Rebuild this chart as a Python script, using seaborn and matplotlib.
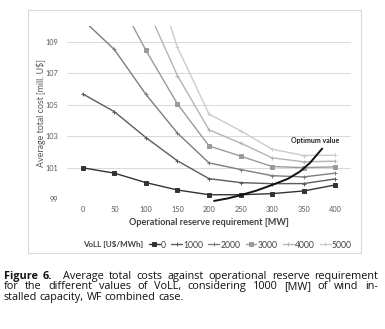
import numpy as np
import pandas as pd
import matplotlib
matplotlib.use("Agg")
import matplotlib.pyplot as plt
from matplotlib.lines import Line2D
from matplotlib.patches import Rectangle
import seaborn as sns

# ---------------- data ----------------
reserve = [0, 50, 100, 150, 200, 250, 300, 350, 400]
voll_labels = ["0", "1000", "2000", "3000", "4000", "5000"]
cost_0 = [101.0, 100.66, 100.06, 99.59, 99.29, 99.29, 99.36, 99.53, 99.91]
cost_1000 = [105.69, 104.56, 102.92, 101.44, 100.31, 100.06, 99.99, 100.0, 100.29]
cost_2000 = [110.4, 108.51, 105.66, 103.2, 101.31, 100.89, 100.5, 100.42, 100.66]
cost_3000 = [115.5, 112.2, 108.46, 105.05, 102.39, 101.74, 101.08, 101.01, 101.06]
cost_4000 = [119.0, 115.0, 111.3, 106.85, 103.41, 102.57, 101.63, 101.38, 101.42]
cost_5000 = [122.0, 118.0, 114.8, 108.65, 104.41, 103.35, 102.18, 101.78, 101.8]
# hand-drawn "optimum value" curve (annotation)
opt_x = [207, 229, 249, 275, 300, 325, 344, 360, 380]
opt_y = [98.89, 99.05, 99.25, 99.55, 99.91, 100.3, 100.76, 101.31, 102.25]

yticks = [99, 101, 103, 105, 107, 109]
xlabel = "Operational reserve requirement [MW]"
ylabel = "Average total cost [mill. U$]"
legend_title = "VoLL [U$/MWh]"
annot = "Optimum value"
caption = [
    [("Figure", "bold", 0), ("6.", "bold", 6), ("Average", "normal", 0), ("total", "normal", 0),
     ("costs", "normal", 0), ("against", "normal", 0), ("operational", "normal", 0),
     ("reserve", "normal", 0), ("requirement", "normal", 0)],
    [("for", "normal", 0), ("the", "normal", 0), ("different", "normal", 0), ("values", "normal", 0),
     ("of", "normal", 0), ("VoLL,", "normal", 0), ("considering", "normal", 0), ("1000", "normal", 0),
     ("[MW]", "normal", 0), ("of", "normal", 0), ("wind", "normal", 0), ("in-", "normal", 0)],
    [("stalled", "normal", 0), ("capacity,", "normal", 0), ("WF", "normal", 0),
     ("combined", "normal", 0), ("case.", "normal", 0)],
]

series = [cost_0, cost_1000, cost_2000, cost_3000, cost_4000, cost_5000]
rows = []
for lab, vals in zip(voll_labels, series):
    for x, v in zip(reserve, vals):
        rows.append({"reserve": x, "cost": v, "VoLL": lab})
df = pd.DataFrame(rows)

colors = ["#333333", "#5c5c5c", "#7d7d7d", "#9a9a9a", "#b4b4b4", "#cbcbcb"]
markers = ["s", "+", "+", "s", "+", "+"]
msizes = [2.2, 2.6, 2.6, 2.4, 2.6, 2.6]
palette = dict(zip(voll_labels, colors))

# ---------------- figure ----------------
W, H = 385, 329
sns.set_theme(style="white")
plt.rcParams["font.family"] = ["Lato", "DejaVu Sans"]
fig = plt.figure(figsize=(W / 100, H / 100), dpi=100)
fig.patch.set_facecolor("white")


def fx(px):
    return px / W


def fy(py):
    return 1 - py / H


ax = fig.add_axes([fx(67), fy(199.3), fx(351) - fx(67), (199.3 - 26) / H])
ax.set_facecolor("white")

for lab, mk, ms in zip(voll_labels, markers, msizes):
    sub = df[df["VoLL"] == lab]
    sns.lineplot(data=sub, x="reserve", y="cost", color=palette[lab], marker=mk,
                 markersize=ms, markeredgewidth=0.7, markeredgecolor=palette[lab],
                 linewidth=1.0, ax=ax, legend=False, zorder=3)

ax.plot(opt_x, opt_y, color="#111111", linewidth=1.4, clip_on=False, zorder=4,
        solid_capstyle="butt")
fig.text(fx(315.5), fy(141), annot, fontsize=5, fontweight="bold", color="#222222",
         ha="center", va="center")

ax.set_xlim(-25, 425)
ax.set_ylim(99, 110)
ax.set_xticks(reserve)
ax.set_yticks(yticks)
ax.set_xticklabels([str(x) for x in reserve])
ax.set_yticklabels([str(y) for y in yticks])
ax.tick_params(axis="both", length=0, labelsize=5.3, colors="#595959")
ax.tick_params(axis="x", pad=5)
ax.tick_params(axis="y", pad=6.5)
ax.yaxis.grid(True, color="#d9d9d9", linewidth=0.7)
ax.xaxis.grid(False)
for s in ax.spines.values():
    s.set_visible(False)
ax.set_xlabel("")
ax.set_ylabel("")

fig.text(fx(208.5), fy(222.7), xlabel, fontsize=6.6, fontweight="bold", color="#404040",
         ha="center", va="center")
fig.text(fx(41.5), fy(113), ylabel, fontsize=6.4, color="#595959", rotation=90,
         ha="center", va="center")

# legend
fig.text(fx(83), fy(245), legend_title, fontsize=5.8, fontweight="bold", color="#404040",
         ha="left", va="center")
handles = [Line2D([0], [0], color=c, marker=m, markersize=ms, markeredgewidth=0.7, lw=1.0)
           for c, m, ms in zip(colors, markers, msizes)]
leg = fig.legend(handles, voll_labels, loc="center left", bbox_to_anchor=(fx(149), fy(245)),
                 bbox_transform=fig.transFigure, ncol=6, frameon=False, fontsize=6.2,
                 handlelength=1.25, handletextpad=0.15, columnspacing=0.6,
                 borderpad=0, borderaxespad=0)
for t in leg.get_texts():
    t.set_color("#404040")

# chart frame
fig.add_artist(Rectangle((fx(28), fy(253)), fx(361) - fx(28), (253 - 10) / H,
                         transform=fig.transFigure, fill=False, edgecolor="#d9d9d9",
                         linewidth=0.8))

# justified caption
renderer = fig.canvas.get_renderer()
fs_cap = 7.8
baselines = [279, 289.3, 299.6]
x0, x1 = 4, 378
for li, (line, yb) in enumerate(zip(caption, baselines)):
    texts = []
    for word, wt, extra in line:
        t = fig.text(0, 0, word, fontsize=fs_cap, fontweight=wt, color="#111111",
                     family=["Open Sans", "DejaVu Sans"], ha="left", va="baseline")
        texts.append(t)
    widths = [t.get_window_extent(renderer).width for t in texts]
    extras = sum(e for _, _, e in line)
    if li == len(caption) - 1:
        gap = 2.6
    else:
        gap = (x1 - x0 - sum(widths) - extras) / (len(texts) - 1)
    x = x0
    for t, w, (_, _, e) in zip(texts, widths, line):
        t.set_position((fx(x), fy(yb)))
        x += w + gap + e

fig.savefig("out.png", dpi=100, facecolor="white")
